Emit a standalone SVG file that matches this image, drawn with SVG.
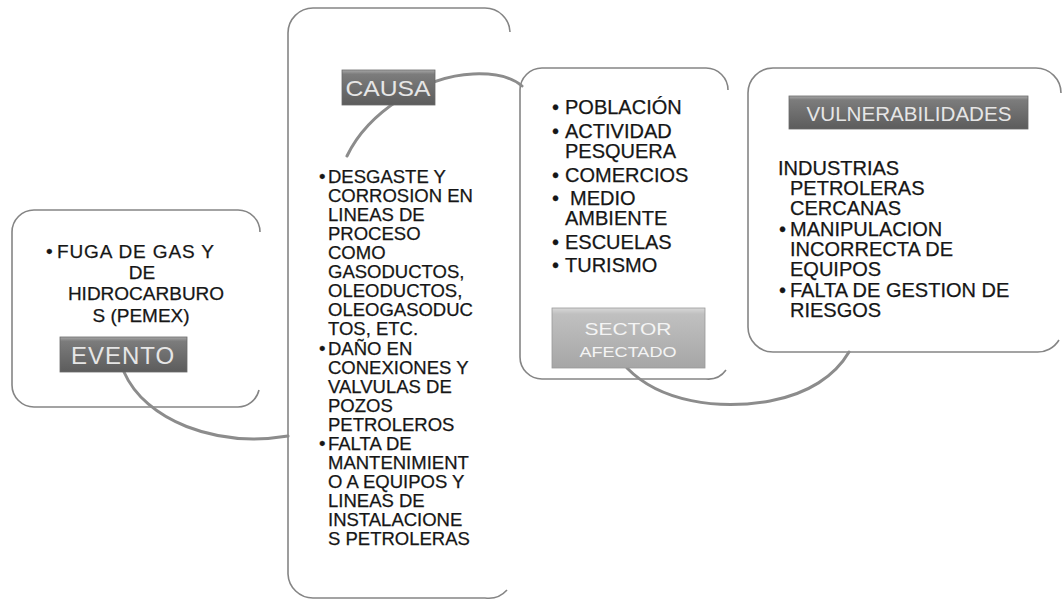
<svg xmlns="http://www.w3.org/2000/svg" width="1063" height="608" viewBox="0 0 1063 608">
<defs>
<linearGradient id="dk" x1="0" y1="0" x2="0" y2="1">
<stop offset="0" stop-color="#a8a8a8"/>
<stop offset="0.12" stop-color="#7c7c7c"/>
<stop offset="1" stop-color="#5c5c5c"/>
</linearGradient>
<linearGradient id="lt" x1="0" y1="0" x2="0" y2="1">
<stop offset="0" stop-color="#d8d8d8"/>
<stop offset="0.1" stop-color="#c0c0c0"/>
<stop offset="1" stop-color="#a6a6a6"/>
</linearGradient>
<style>
.box{fill:#fff;stroke:#858585;stroke-width:1.6}
.con{fill:none;stroke:#8c8c8c;stroke-width:3;stroke-linecap:round}
.lbl{fill:url(#dk);stroke:#6a6a6a;stroke-width:0.8}
.lbl2{fill:url(#lt);stroke:#9a9a9a;stroke-width:0.8}
.lt{font-family:"Liberation Sans",Arial,sans-serif;fill:#e6e6e6;text-anchor:middle}
.t{font-family:"Liberation Sans",Arial,sans-serif;fill:#161616;stroke:#161616;stroke-width:0.25}
.c18{font-size:18.5px}
.c19{font-size:19px}
.c20{font-size:20px}
</style>
</defs>
<rect width="1063" height="608" fill="#fff"/>

<g id="evento">
<path class="box" d="M260,232 A22,22 0 0 0 238,210 L34,210 A22,22 0 0 0 12,232 L12,385 A22,22 0 0 0 34,407 L238,407 A22,22 0 0 0 259,390"/>
</g>
<g id="causa">
<path class="box" d="M510,32 A25,25 0 0 0 485,8 L313,8 A25,25 0 0 0 288,33 L288,574 A25,25 0 0 0 313,598 L485,598 A25,25 0 0 0 507,590"/>
</g>
<g id="sector">
<path class="box" d="M728,90 A22,22 0 0 0 706,68 L542,68 A22,22 0 0 0 520,90 L520,357 A22,22 0 0 0 542,379 L706,379 A22,22 0 0 0 726,370"/>
</g>
<g id="vulnerabilidades">
<path class="box" d="M1061,93 A25,25 0 0 0 1036,68 L773,68 A25,25 0 0 0 748,93 L748,327 A25,25 0 0 0 773,352 L1036,352 A25,25 0 0 0 1059,340"/>
</g>

<g id="connectors">
<path class="con" d="M124,372 C145,420 215,448 288,436"/>
<path class="con" d="M347,156 C368,112 425,76 473,74 C498,73 513,78 522,86"/>
<path class="con" d="M627,368 C660,402 718,410 770,401 C808,394 835,376 849,352"/>
</g>

<g id="evento-content">
<rect class="lbl" x="60" y="337" width="127" height="35"/>
<text class="lt" x="123" y="364" font-size="24" letter-spacing="1">EVENTO</text>
<text class="t c19" x="46" y="258">•</text>
<text class="t c19" x="57" y="258" textLength="157" lengthAdjust="spacing">FUGA DE GAS Y</text>
<text class="t c19" x="142" y="279" text-anchor="middle">DE</text>
<text class="t c19" x="146" y="300" text-anchor="middle">HIDROCARBURO</text>
<text class="t c19" x="141" y="322" text-anchor="middle">S (PEMEX)</text>
</g>

<g id="causa-content">
<rect class="lbl" x="342" y="70" width="93" height="35"/>
<text class="lt" x="388" y="96" font-size="22" textLength="85" lengthAdjust="spacingAndGlyphs">CAUSA</text>
<g class="t c18">
<text x="319" y="183">•</text>
<text x="328" y="183">DESGASTE Y</text>
<text x="328" y="202">CORROSION EN</text>
<text x="328" y="221">LINEAS DE</text>
<text x="328" y="240">PROCESO</text>
<text x="328" y="259">COMO</text>
<text x="328" y="278">GASODUCTOS,</text>
<text x="328" y="297">OLEODUCTOS,</text>
<text x="328" y="316">OLEOGASODUC</text>
<text x="328" y="335">TOS, ETC.</text>
<text x="319" y="355">•</text>
<text x="328" y="355">DAÑO EN</text>
<text x="328" y="374">CONEXIONES Y</text>
<text x="328" y="393">VALVULAS DE</text>
<text x="328" y="412">POZOS</text>
<text x="328" y="431">PETROLEROS</text>
<text x="319" y="450">•</text>
<text x="328" y="450">FALTA DE</text>
<text x="328" y="469">MANTENIMIENT</text>
<text x="328" y="488">O A EQUIPOS Y</text>
<text x="328" y="507">LINEAS DE</text>
<text x="328" y="526">INSTALACIONE</text>
<text x="328" y="545">S PETROLERAS</text>
</g>
</g>

<g id="sector-content">
<g class="t c20">
<text x="552" y="114">•</text>
<text x="565" y="114">POBLACIÓN</text>
<text x="552" y="138">•</text>
<text x="565" y="138">ACTIVIDAD</text>
<text x="565" y="158">PESQUERA</text>
<text x="552" y="182">•</text>
<text x="565" y="182">COMERCIOS</text>
<text x="552" y="205">•</text>
<text x="570" y="205">MEDIO</text>
<text x="565" y="225">AMBIENTE</text>
<text x="552" y="249">•</text>
<text x="565" y="249">ESCUELAS</text>
<text x="552" y="272">•</text>
<text x="565" y="272">TURISMO</text>
</g>
<rect class="lbl2" x="552" y="308" width="153" height="60"/>
<text class="lt" x="628" y="335" font-size="17" style="fill:#f4f4f4" textLength="87" lengthAdjust="spacingAndGlyphs">SECTOR</text>
<text class="lt" x="628" y="357" font-size="15.5" style="fill:#f4f4f4" textLength="97" lengthAdjust="spacingAndGlyphs">AFECTADO</text>
</g>

<g id="vulnerabilidades-content">
<rect class="lbl" x="789" y="96" width="239" height="33"/>
<text class="lt" x="909" y="121" font-size="20.5" textLength="205" lengthAdjust="spacingAndGlyphs">VULNERABILIDADES</text>
<g class="t c20">
<text x="778" y="175">INDUSTRIAS</text>
<text x="790" y="195">PETROLERAS</text>
<text x="790" y="215">CERCANAS</text>
<text x="779" y="236">•</text>
<text x="790" y="236">MANIPULACION</text>
<text x="790" y="256">INCORRECTA DE</text>
<text x="790" y="276">EQUIPOS</text>
<text x="779" y="297">•</text>
<text x="790" y="297">FALTA DE GESTION DE</text>
<text x="790" y="317">RIESGOS</text>
</g>
</g>
</svg>
